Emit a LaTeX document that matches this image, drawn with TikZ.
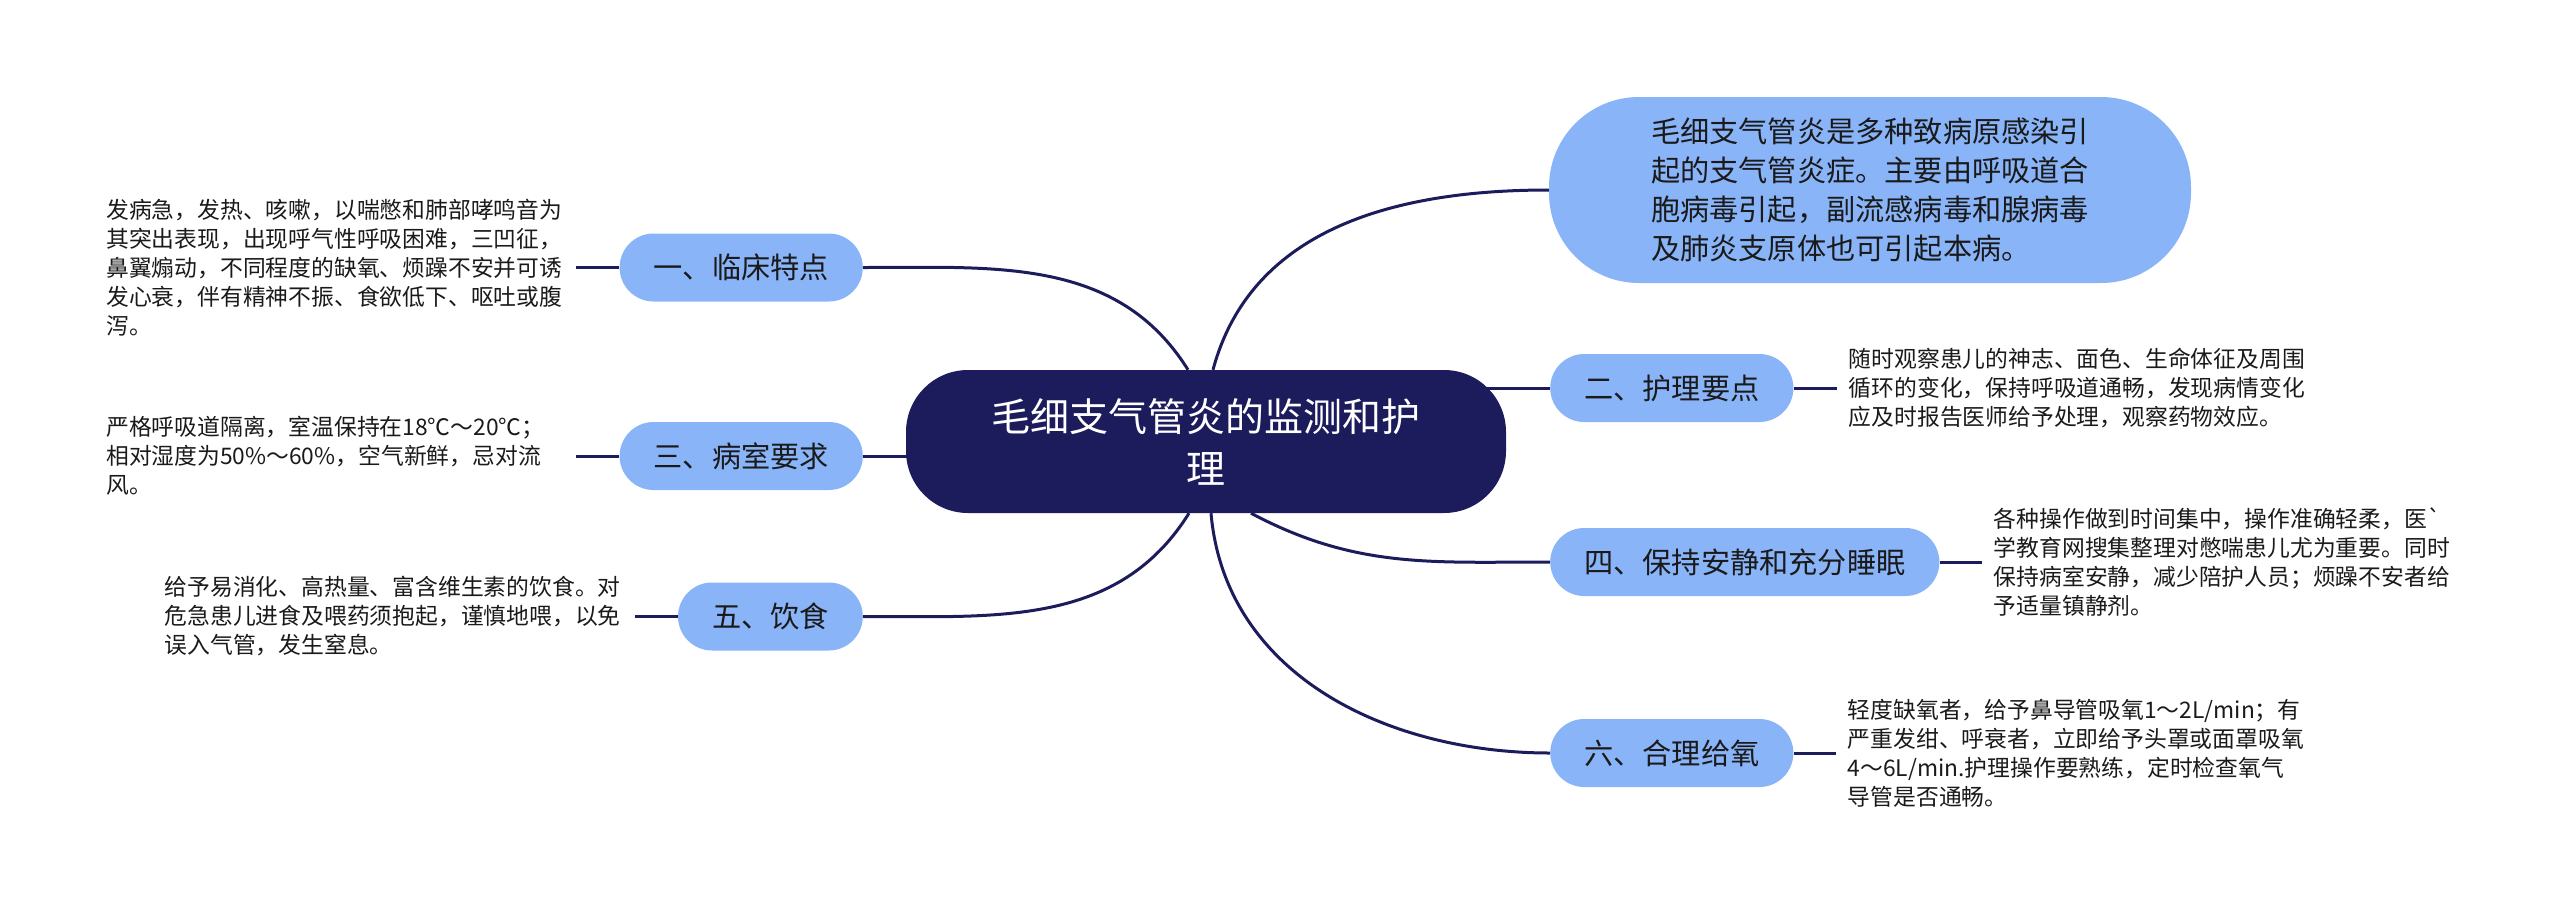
\documentclass[tikz,border=0pt]{standalone}
\usepackage{fontspec}
\setmainfont{Noto Sans CJK SC}
\usepackage{tikz}
\usetikzlibrary{positioning,calc,backgrounds}

\definecolor{rootnavy}{HTML}{1C1B5C}
\definecolor{branchblue}{HTML}{8AB4F8}
\definecolor{inktext}{HTML}{1A1A1A}

\begin{document}
\begin{tikzpicture}[x=1pt, y=1pt,
    root/.style={fill=rootnavy, rounded corners=62pt, minimum width=600pt, minimum height=143pt,
        align=center, text=white, font=\fontsize{39pt}{52pt}\selectfont},
    bubble/.style={fill=branchblue, rounded corners=90pt, minimum width=642pt, minimum height=186pt,
        align=left, text=inktext, font=\fontsize{29.2pt}{39pt}\selectfont},
    branch/.style={fill=branchblue, rounded corners=34pt, minimum height=68pt, inner xsep=34pt,
        inner ysep=0pt, text=inktext, font=\fontsize{29.2pt}{35pt}\selectfont},
    desc/.style={text width=458pt, align=left, inner sep=12pt, text=inktext,
        font=\fontsize{22.8pt}{29pt}\selectfont},
    link/.style={draw=rootnavy, line width=3pt}]

    \useasboundingbox (0,0) rectangle (2560,-919);

    % Root
    \node[root] (ctr) at (1206,-441.5) {毛细支气管炎的监测和护\\理};

    % Definition bubble
    \node[bubble] (bub) at (1870,-190) {
        毛细支气管炎是多种致病原感染引\\
        起的支气管炎症。主要由呼吸道合\\
        胞病毒引起，副流感病毒和腺病毒\\
        及肺炎支原体也可引起本病。
    };

    % Left branches
    \node[branch, anchor=east] (c1) at (863,-267.5) {一、临床特点};
    \node[branch, anchor=east] (c3) at (863,-456) {三、病室要求};
    \node[branch, anchor=east] (c5) at (863,-616.5) {五、饮食};

    % Right branches
    \node[branch, anchor=west] (c2) at (1550,-388) {二、护理要点};
    \node[branch, anchor=west] (c4) at (1550,-562) {四、保持安静和充分睡眠};
    \node[branch, anchor=west] (c6) at (1550,-753) {六、合理给氧};

    % Details
    \node[desc, left=43pt of c1] (d1) {
        发病急，发热、咳嗽，以喘憋和肺部哮鸣音为\\
        其突出表现，出现呼气性呼吸困难，三凹征，\\
        鼻翼煽动，不同程度的缺氧、烦躁不安并可诱\\
        发心衰，伴有精神不振、食欲低下、呕吐或腹\\
        泻。
    };
    \node[desc, left=43pt of c3] (d3) {
        严格呼吸道隔离，室温保持在18℃～20℃；\\
        相对湿度为50\%～60\%，空气新鲜，忌对流\\
        风。
    };
    \node[desc, left=43pt of c5] (d5) {
        给予易消化、高热量、富含维生素的饮食。对\\
        危急患儿进食及喂药须抱起，谨慎地喂，以免\\
        误入气管，发生窒息。
    };
    \node[desc, right=43pt of c2] (d2) {
        随时观察患儿的神志、面色、生命体征及周围\\
        循环的变化，保持呼吸道通畅，发现病情变化\\
        应及时报告医师给予处理，观察药物效应。
    };
    \node[desc, right=42pt of c4] (d4) {
        各种操作做到时间集中，操作准确轻柔，医\textasciigrave\\
        学教育网搜集整理对憋喘患儿尤为重要。同时\\
        保持病室安静，减少陪护人员；烦躁不安者给\\
        予适量镇静剂。
    };
    \node[desc, right=42pt of c6] (d6) {
        轻度缺氧者，给予鼻导管吸氧1～2L/min；有\\
        严重发绀、呼衰者，立即给予头罩或面罩吸氧\\
        4～6L/min.护理操作要熟练，定时检查氧气\\
        导管是否通畅。
    };

    % Ends on the root
    \coordinate (ct1) at ($(ctr.north)+(-18,0)$);
    \coordinate (ct2) at ($(ctr.north)+(7,0)$);
    \coordinate (cb5) at ($(ctr.south)+(-17,0)$);
    \coordinate (cb6) at ($(ctr.south)+(5,0)$);
    \coordinate (cb4) at ($(ctr.south)+(45,0)$);

    % Connectors
    \begin{scope}[on background layer]
        \draw[link] (c1.east) to[out=0, in=122] (ct1);
        \draw[link] (c3.east) -- (c3.east -| ctr.center);
        \draw[link] (c5.east) to[out=0, in=-122] (cb5);
        \draw[link] (bub.west) to[out=180, in=75] (ct2);
        \draw[link] (c2.west) -- (c2.west -| ctr.center);
        \draw[link] (c4.west) to[out=180, in=-28] (cb4);
        \draw[link] (c6.west) to[out=180, in=-85] (cb6);
    \end{scope}
    \draw[link] (d1) -- (c1);
    \draw[link] (d3) -- (c3);
    \draw[link] (d5) -- (c5);
    \draw[link] (c2) -- (d2);
    \draw[link] (c4) -- (d4);
    \draw[link] (c6) -- (d6);
\end{tikzpicture}
\end{document}
